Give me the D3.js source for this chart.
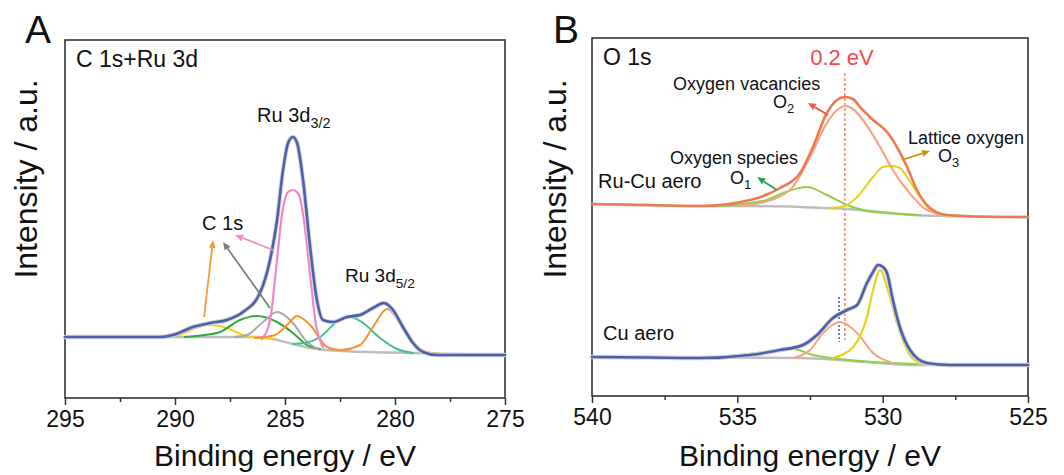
<!DOCTYPE html>
<html>
<head>
<meta charset="utf-8">
<script src="https://cdn.jsdelivr.net/npm/d3@7"></script>
<style>
  body { margin: 0; background: #fff; }
  text { font-family: "Liberation Sans", Arial, sans-serif; fill: #111; }
</style>
</head>
<body>
<svg id="chart" width="1064" height="475"></svg>
<script>
// ---- panel A : C 1s + Ru 3d  ([binding energy eV, intensity a.u.]) ----
var aTicks = [295, 290, 285, 280, 275];
var aTotal = [[295,61],[292.5,61],[290.68,61],[290.09,63],[289.18,71],[288.41,75],[287.64,78],[286.91,86],[286.14,105],[285.68,138],[285.36,178],[285.09,228],[284.86,255],[284.64,261],[284.45,255],[284.18,218],[283.86,151],[283.55,98],[283.27,78],[282.82,76],[282.18,81],[281.59,83],[281.0,90],[280.5,95],[280.09,88],[279.64,71],[279.18,55],[278.73,46],[278.09,43],[276.59,43],[275,43]];
var aBackground = [[295,61],[286.14,61],[285.36,58],[284.64,54],[283.86,50],[282.36,47],[279.32,45],[275,43]];
var aYellow = [[290.23,61],[289.55,65],[289.18,69],[288.41,73],[287.64,70],[286.91,63],[286.14,60],[285.45,59]];
var aGreen = [[289.55,61],[288.64,63],[287.95,66],[287.05,78],[286.27,82],[285.36,76],[284.64,65],[284.0,53],[283.41,49]];
var aGrey = [[287.27,61],[286.73,63],[286.0,76],[285.36,86],[284.64,75],[284.0,56],[283.5,49]];
var aTeal = [[284.64,54],[284.09,55],[283.41,61],[282.64,76],[282.05,81],[281.45,75],[280.68,60],[279.91,49],[279.18,45]];
var aOrange = [[286.36,60],[285.45,63],[284.91,73],[284.45,82],[283.86,73],[283.09,51],[282.5,48],[281.59,53],[281.0,71],[280.36,89],[279.77,75],[279.18,55],[278.55,46],[277.95,44]];
var aPink = [[286.05,59],[285.68,78],[285.41,128],[285.14,183],[284.86,206],[284.64,208],[284.41,205],[284.14,178],[283.86,123],[283.59,73],[283.27,51]];

// ---- panel B : O 1s ----
var bTicks = [540, 535, 530, 525];
var ruTotal = [[540,192],[538,191],[536.28,190],[534.56,196],[533.53,208],[532.84,223],[532.4,249],[531.92,283],[531.57,296],[531.3,299],[531.02,297],[530.78,289],[530.33,276],[529.85,264],[529.51,249],[529.16,229],[528.82,206],[528.37,188],[527.79,181],[525.96,179],[525,179]];
var ruBackground = [[540,192],[536.28,190],[534.67,190],[532.84,189],[531.23,187],[530.09,184],[528.96,181],[527.79,180],[525,179]];
var ruO2 = [[534.91,190],[534.22,193],[533.19,206],[532.5,239],[531.92,273],[531.57,286],[531.3,290],[531.02,287],[530.68,276],[530.09,249],[529.65,226],[529.16,206],[528.48,186],[527.79,181]];
var ruO1 = [[535.6,190],[534.56,193],[533.98,196],[533.43,203],[532.6,209],[531.92,201],[531.23,191],[530.54,185],[529.85,183],[528.72,181]];
var ruO3 = [[531.81,188],[531.3,190],[530.88,199],[530.33,219],[529.99,229],[529.68,230],[529.41,228],[529.16,219],[528.72,199],[528.27,184],[527.68,180]];
var cuTotal = [[540,39],[538,38.5],[536.28,38],[534.56,41],[533.53,46],[532.74,51],[532.26,61],[531.71,78],[531.23,86],[530.88,91],[530.54,113],[530.33,124],[530.16,131],[529.99,129],[529.85,123],[529.65,96],[529.41,69],[529.06,46],[528.48,33],[527.68,31],[525,31]];
var cuBackground = [[540,39],[532.84,38],[530.54,34],[528.96,31],[525,31]];
var cuO3 = [[531.71,38],[531.02,49],[530.54,79],[530.33,106],[530.09,126],[529.82,106],[529.51,73],[529.16,46],[528.72,33],[528.2,31]];
var cuO2 = [[533.09,38],[532.5,46],[532.05,63],[531.47,74],[530.88,63],[530.33,43],[529.65,33]];
var cuO1 = [[535.6,39],[533.98,44],[533.09,47],[532.4,41],[531.47,37],[530.33,34],[528.82,32]];

var svg = d3.select('#chart');

function panel(left, top, right, bottom, domain, ticks) {
  var x = d3.scaleLinear().domain(domain).range([left, right]);
  var y = d3.scaleLinear().domain([0, 358]).range([bottom, top]);
  var minor = d3.range(domain[0], domain[1] - 0.01, -2.5).concat([domain[1]]);
  var minorOnly = minor.filter(function(v) { return ticks.indexOf(v) < 0; });

  svg.append('g')
    .attr('transform', 'translate(0,' + bottom + ')')
    .call(d3.axisBottom(x).tickValues(minorOnly).tickSize(4).tickFormat(''))
    .call(function(g) { g.select('.domain').remove(); g.selectAll('line').attr('stroke', '#333').attr('stroke-width', 1.5); });

  svg.append('g')
    .attr('transform', 'translate(0,' + bottom + ')')
    .call(d3.axisBottom(x).tickValues(ticks).tickSize(7).tickPadding(6).tickFormat(d3.format('d')))
    .call(function(g) {
      g.select('.domain').remove();
      g.selectAll('line').attr('stroke', '#333').attr('stroke-width', 1.5);
      g.selectAll('text').attr('font-size', 23).attr('font-family', '"Liberation Sans", Arial, sans-serif').attr('fill', '#111');
    });

  svg.append('rect')
    .attr('x', left).attr('y', top)
    .attr('width', right - left).attr('height', bottom - top)
    .attr('fill', 'none').attr('stroke', '#333').attr('stroke-width', 1.6);

  return { x: x, y: y };
}

function curve(p, data, color, width) {
  var line = d3.line()
    .x(function(d) { return p.x(d[0]); })
    .y(function(d) { return p.y(d[1]); })
    .curve(d3.curveMonotoneX);
  svg.append('path')
    .attr('d', line(data))
    .attr('fill', 'none')
    .attr('stroke', color)
    .attr('stroke-width', width)
    .attr('stroke-linejoin', 'round')
    .attr('stroke-linecap', 'round');
}

function arrow(p, from, to, color) {
  var x1 = p.x(from[0]), y1 = p.y(from[1]), x2 = p.x(to[0]), y2 = p.y(to[1]);
  var a = Math.atan2(y2 - y1, x2 - x1), L = 8, W = 3.5;
  var bx = x2 - L * Math.cos(a), by = y2 - L * Math.sin(a);
  svg.append('line')
    .attr('x1', x1).attr('y1', y1).attr('x2', bx).attr('y2', by)
    .attr('stroke', color).attr('stroke-width', 1.8);
  svg.append('path')
    .attr('d', 'M' + x2 + ',' + y2 +
      'L' + (bx + W * Math.sin(a)) + ',' + (by - W * Math.cos(a)) +
      'L' + (bx - W * Math.sin(a)) + ',' + (by + W * Math.cos(a)) + 'Z')
    .attr('fill', color);
}

function label(p, at, txt, sub, size, anchor, color) {
  var t = svg.append('text')
    .attr('x', p.x(at[0])).attr('y', p.y(at[1]))
    .attr('font-size', size)
    .attr('text-anchor', anchor || 'start')
    .style('fill', color || '#111')
    .text(txt);
  if (sub) {
    t.append('tspan').attr('dy', size * 0.3).attr('font-size', size * 0.72).text(sub);
  }
  return t;
}

// ---------- panel A ----------
var A = panel(65, 40, 505, 398, [295, 275], aTicks);
curve(A, aBackground, '#bdbdbd', 2.5);
curve(A, aYellow, '#f2d024', 2);
curve(A, aGreen, '#2eaa3c', 2);
curve(A, aGrey, '#a9a9a9', 2);
curve(A, aTeal, '#45c095', 2);
curve(A, aOrange, '#f5922e', 2);
curve(A, aPink, '#ef86c6', 2.2);
curve(A, aTotal, '#d4d4d4', 4.5);
curve(A, aTotal, '#4f5fb0', 2.6);

arrow(A, [288.68, 81], [288.27, 158], '#f59a3a');
arrow(A, [285.68, 90], [287.82, 156], '#7d7d7d');
arrow(A, [285.55, 148], [287.27, 163], '#f08cc6');
label(A, [288.77, 168], 'C 1s', null, 20);
label(A, [286.27, 276], 'Ru 3d', '3/2', 20);
label(A, [282.27, 116], 'Ru 3d', '5/2', 19);
svg.append('text').attr('x', 76).attr('y', 67).attr('font-size', 23).text('C 1s+Ru 3d');

// ---------- panel B ----------
var B = panel(592, 38, 1028, 396, [540, 525], bTicks);

var ruPeak = 531.3, cuPeak = 531.5;
svg.append('line')
  .attr('x1', B.x(ruPeak)).attr('x2', B.x(ruPeak))
  .attr('y1', B.y(323)).attr('y2', B.y(56))
  .attr('stroke', '#f06a48').attr('stroke-width', 1.2).attr('stroke-dasharray', '3,2');
svg.append('line')
  .attr('x1', B.x(cuPeak)).attr('x2', B.x(cuPeak))
  .attr('y1', B.y(99)).attr('y2', B.y(54))
  .attr('stroke', '#4f5fb0').attr('stroke-width', 1.6).attr('stroke-dasharray', '2,2');

curve(B, ruBackground, '#bdbdbd', 2.5);
curve(B, ruO1, '#8fd044', 2);
curve(B, ruO3, '#e6d21c', 2);
curve(B, ruO2, '#f8a384', 2.2);
curve(B, ruTotal, '#f07a50', 2.6);

curve(B, cuBackground, '#bdbdbd', 2.5);
curve(B, cuO1, '#8fd044', 2);
curve(B, cuO2, '#f8a384', 2);
curve(B, cuO3, '#e6d21c', 2.2);
curve(B, cuTotal, '#d4d4d4', 4.5);
curve(B, cuTotal, '#4f5fb0', 2.6);

arrow(B, [531.88, 281], [532.57, 293], '#f05548');
arrow(B, [533.64, 206], [534.32, 219], '#22a848');
arrow(B, [529.34, 236], [528.37, 245], '#c8960c');

label(B, [537.21, 306], 'Oxygen vacancies', null, 18);
label(B, [533.77, 288], 'O', '2', 18);
label(B, [537.32, 232], 'Oxygen species', null, 18);
label(B, [535.25, 212], 'O', '1', 18);
label(B, [529.13, 252], 'Lattice oxygen', null, 18);
label(B, [528.1, 234], 'O', '3', 18);
label(B, [539.79, 208], 'Ru-Cu aero', null, 20);
label(B, [539.62, 56], 'Cu aero', null, 20);
label(B, [531.4, 331], '0.2 eV', null, 22, 'middle', '#f04848');
svg.append('text').attr('x', 603).attr('y', 65).attr('font-size', 23).text('O 1s');

// ---------- titles ----------
[[25, 'A'], [553, 'B']].forEach(function(d) {
  svg.append('text').attr('x', d[0]).attr('y', 43).attr('font-size', 39).text(d[1]);
});
[285, 810].forEach(function(cx) {
  svg.append('text').attr('x', cx).attr('y', 466).attr('font-size', 30)
    .attr('text-anchor', 'middle').text('Binding energy / eV');
});
[37, 566].forEach(function(bx) {
  svg.append('text').attr('transform', 'translate(' + bx + ',179) rotate(-90)')
    .attr('font-size', 32).attr('text-anchor', 'middle').text('Intensity / a.u.');
});
</script>
</body>
</html>
